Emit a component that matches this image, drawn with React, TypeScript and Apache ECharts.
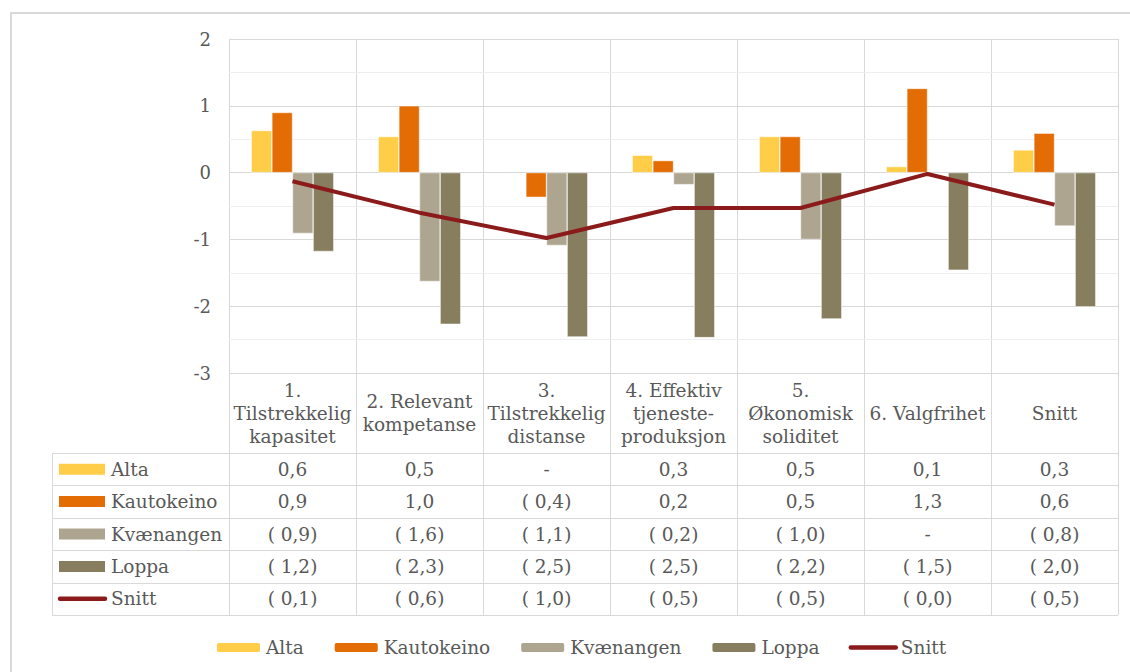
import React, { useEffect, useRef } from "react";
import * as echarts from "echarts";

const categories = [
  "1.\nTilstrekkelig\nkapasitet",
  "2. Relevant\nkompetanse",
  "3.\nTilstrekkelig\ndistanse",
  "4. Effektiv\ntjeneste-\nproduksjon",
  "5.\nØkonomisk\nsoliditet",
  "6. Valgfrihet",
  "Snitt",
];
const alta = [0.63, 0.54, null, 0.26, 0.54, 0.09, 0.34];
const kautokeino = [0.9, 1.0, -0.37, 0.18, 0.54, 1.26, 0.59];
const kvaenangen = [-0.91, -1.63, -1.09, -0.18, -1.0, null, -0.8];
const loppa = [-1.18, -2.27, -2.46, -2.47, -2.19, -1.46, -2.01];
const snitt = [-0.13, -0.6, -0.98, -0.53, -0.53, -0.02, -0.48];
const seriesNames = ["Alta", "Kautokeino", "Kvænangen", "Loppa", "Snitt"];
const seriesData = [alta, kautokeino, kvaenangen, loppa, snitt];
const colors = ["#FFCD47", "#E36C04", "#ADA58F", "#877D5F", "#8B1B1B"];
const yMin = -3;
const yMax = 2;
const yInterval = 1;

const FONT = "DejaVu Serif";
const TXT = "#595959";
const GRIDC = "#d9d9d9";
const GL = 229, GT = 39, GW = 889, GH = 334;
const TABLE_TOP = 453;
const ROW_H = 32.4;
const TABLE_LEFT = 52;
const FS = 18.5;

function fmt(v: number | null): string {
  if (v === null || v === undefined) return "-";
  const r = Math.abs(v).toFixed(1).replace(".", ",");
  return v < 0 ? "( " + r + ")" : r;
}

export default function App() {
  const ref = useRef<HTMLDivElement>(null);
  useEffect(() => {
    const chart = echarts.init(ref.current!, null, { renderer: "svg" });
    const n = categories.length;
    const colW = GW / n;
    const tableBottom = TABLE_TOP + ROW_H * seriesNames.length;
    const graphics: any[] = [];
    graphics.push({
      type: "rect",
      shape: { x: 11, y: 13, width: 1140, height: 700 },
      style: { fill: "none", stroke: "#d9d9d9", lineWidth: 2 },
      z: -1,
    });
    for (let k = 0; k <= n; k++) {
      const x = Math.round(GL + k * colW) + 0.5;
      graphics.push({
        type: "line",
        shape: { x1: x, y1: GT, x2: x, y2: tableBottom },
        style: { stroke: GRIDC, lineWidth: 1 },
        z: 0,
      });
    }
    for (let r = 0; r <= seriesNames.length; r++) {
      const y = Math.round(TABLE_TOP + r * ROW_H) + 0.5;
      graphics.push({
        type: "line",
        shape: { x1: TABLE_LEFT, y1: y, x2: GL + GW, y2: y },
        style: { stroke: GRIDC, lineWidth: 1 },
        z: 0,
      });
    }
    graphics.push({
      type: "line",
      shape: { x1: TABLE_LEFT + 0.5, y1: TABLE_TOP, x2: TABLE_LEFT + 0.5, y2: tableBottom },
      style: { stroke: GRIDC, lineWidth: 1 },
      z: 0,
    });
    seriesNames.forEach((name, i) => {
      const cy = TABLE_TOP + ROW_H * i + ROW_H / 2;
      if (i < 4) {
        graphics.push({
          type: "rect",
          shape: { x: 59, y: cy - 5.5, width: 46, height: 11 },
          style: { fill: colors[i] },
        });
      } else {
        graphics.push({
          type: "line",
          shape: { x1: 60, y1: cy, x2: 105, y2: cy },
          style: { stroke: colors[i], lineWidth: 4.5, lineCap: "round" },
        });
      }
      graphics.push({
        type: "text",
        x: 111,
        y: cy,
        style: { text: name, fontFamily: FONT, fontSize: FS, fill: TXT, verticalAlign: "middle" },
      });
      seriesData[i].forEach((v, j) => {
        graphics.push({
          type: "text",
          x: GL + colW * j + colW / 2,
          y: cy,
          style: {
            text: fmt(v),
            fontFamily: FONT,
            fontSize: FS,
            fill: TXT,
            align: "center",
            verticalAlign: "middle",
          },
        });
      });
    });

    chart.setOption({
      animation: false,
      textStyle: { fontFamily: FONT },
      grid: { left: GL, top: GT, width: GW, height: GH, containLabel: false },
      xAxis: {
        type: "category",
        data: categories,
        axisLine: { show: false },
        axisTick: { show: false },
        splitLine: { show: false },
        axisLabel: {
          margin: 40,
          verticalAlign: "middle",
          interval: 0,
          fontSize: FS,
          lineHeight: 23,
          color: TXT,
          fontFamily: FONT,
          align: "center",
        },
      },
      yAxis: {
        type: "value",
        min: yMin,
        max: yMax,
        interval: yInterval,
        axisLine: { show: false },
        axisTick: { show: false },
        axisLabel: { margin: 18, fontSize: 18, color: TXT, fontFamily: FONT },
        splitLine: { lineStyle: { color: GRIDC, width: 1 } },
        minorTick: { show: false, splitNumber: 2 },
        minorSplitLine: { show: true, lineStyle: { color: "#efefef", width: 1 } },
      },
      legend: {
        left: 215,
        top: 638,
        padding: 0,
        itemWidth: 45,
        itemHeight: 11,
        itemGap: 29,
        data: [
          "Alta",
          "Kautokeino",
          "Kvænangen",
          "Loppa",
          { name: "Snitt", itemStyle: { opacity: 0 }, lineStyle: { width: 4.5, cap: "round" } },
        ],
        textStyle: { fontSize: FS, color: TXT, fontFamily: FONT },
      },
      series: [
        ...seriesNames.slice(0, 4).map((name, i) => ({
          name,
          type: "bar",
          data: seriesData[i],
          barGap: "0%",
          barCategoryGap: "35%",
          itemStyle: { color: colors[i], borderColor: "#ffffff", borderWidth: 0.5 },
          z: 2,
        })),
        {
          name: "Snitt",
          type: "line",
          data: snitt,
          symbol: "none",
          lineStyle: { color: colors[4], width: 4 },
          itemStyle: { color: colors[4] },
          z: 3,
        },
      ],
      graphic: graphics,
    });
    return () => chart.dispose();
  }, []);
  return (
    <div
      ref={ref}
      style={{ position: "absolute", left: 0, top: 0, width: 1130, height: 672, background: "#fff" }}
    />
  );
}
